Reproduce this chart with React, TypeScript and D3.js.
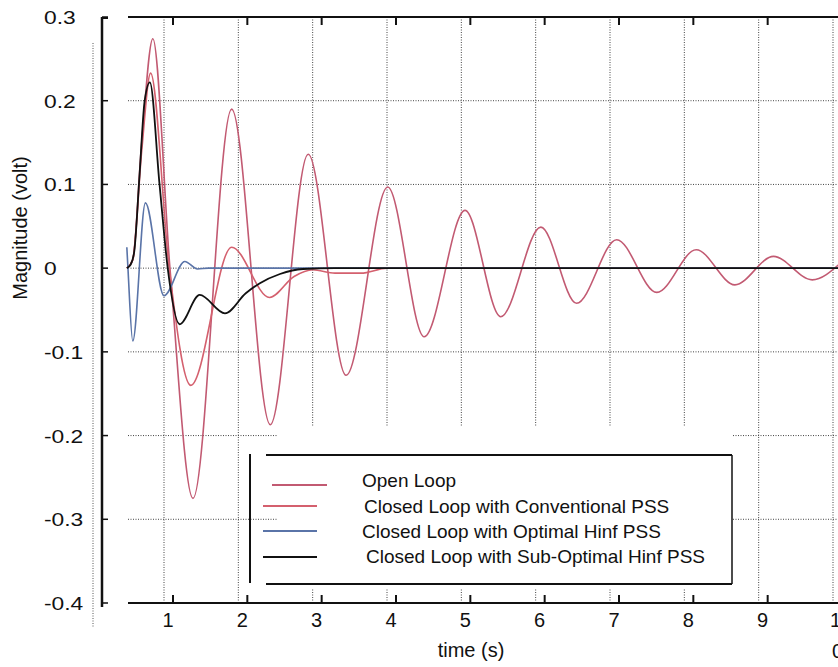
import React from "react";
import * as d3 from "d3";

const W = 838;
const H = 667;

// Open loop
const openT = [0.5, 0.58, 0.7, 0.85, 1.08, 1.39, 1.91, 2.43, 2.94, 3.45, 4.01, 4.5, 5.05, 5.53, 6.07, 6.55, 7.09, 7.63, 8.16, 8.68, 9.2, 9.72, 10.1];
const openV = [0, 0.01, 0.15, 0.274, 0, -0.275, 0.19, -0.187, 0.136, -0.128, 0.097, -0.082, 0.069, -0.058, 0.049, -0.042, 0.034, -0.029, 0.022, -0.02, 0.014, -0.014, 0.006];

// Closed loop with conventional PSS
const convT = [0.5, 0.58, 0.7, 0.82, 1.07, 1.36, 1.91, 2.42, 2.75, 3.0, 3.3, 3.65, 4.0, 10.1];
const convV = [0, 0.01, 0.14, 0.233, 0, -0.14, 0.025, -0.035, -0.01, -0.002, -0.006, -0.006, 0, 0];

// Closed loop with optimal Hinf PSS
const optT = [0.5, 0.515, 0.58, 0.75, 1.0, 1.28, 1.45, 1.6, 10.1];
const optV = [0.025, 0, -0.087, 0.078, -0.033, 0.008, -0.001, 0, 0];

// Closed loop with sub-optimal Hinf PSS
const subT = [0.5, 0.55, 0.6, 0.67, 0.74, 0.81, 0.94, 1.05, 1.21, 1.48, 1.82, 2.1, 2.29, 2.56, 2.87, 3.3, 10.1];
const subV = [0, 0.004, 0.02, 0.11, 0.2, 0.222, 0.1, 0, -0.067, -0.032, -0.054, -0.03, -0.018, -0.007, -0.001, 0, 0];

const xTicks = [1, 2, 3, 4, 5, 6, 7, 8, 9, 10];
const yTicks = [0.3, 0.2, 0.1, 0, -0.1, -0.2, -0.3, -0.4];
const yTickLabels = ["0.3", "0.2", "0.1", "0", "-0.1", "-0.2", "-0.3", "-0.4"];
const yGrid = [0.2, 0.1, 0, -0.1, -0.2, -0.3];

const legendLabels = [
  "Open Loop",
  "Closed Loop with Conventional PSS",
  "Closed Loop with Optimal Hinf PSS",
  "Closed Loop with Sub-Optimal Hinf PSS",
];
const colors = ["#c25a72", "#d4606e", "#5a74a8", "#111111"];

const FONT = "'Liberation Sans', Arial, Helvetica, sans-serif";

export default function App() {
  const x = d3.scaleLinear().domain([1, 10]).range([164, 833]);
  const y = d3.scaleLinear().domain([0.3, -0.4]).range([17, 603]);
  const line = d3
    .line<[number, number]>()
    .x((d) => x(d[0]))
    .y((d) => y(d[1]))
    .curve(d3.curveMonotoneX);

  const series = [
    { t: openT, v: openV },
    { t: convT, v: convV },
    { t: optT, v: optV },
    { t: subT, v: subV },
  ];
  const paths = series.map((s) => line(s.t.map((t, i) => [t, s.v[i]] as [number, number])) || "");

  const left = 128;
  const top = y(0.3);
  const bottom = y(-0.4);

  const legendLineX1 = [272, 263, 263, 263];
  const legendLineX2 = [327, 317, 317, 317];
  const legendLineY = [485, 506, 531, 557];
  const legendTextX = [362, 364, 362, 366];
  const legendTextY = [487, 513, 538, 563];

  return (
    <svg
      width={W}
      height={H}
      style={{ position: "fixed", left: 0, top: 0, background: "#fff" }}
      fontFamily={FONT}
    >
      <defs>
        <clipPath id="plotclip">
          <rect x={left - 2} y={0} width={W - left + 2} height={H} />
        </clipPath>
      </defs>
      <rect x={0} y={0} width={W} height={H} fill="#fff" />

      {/* grid */}
      {xTicks.map((t) => (
        <line
          key={"gx" + t}
          x1={x(t)}
          x2={x(t)}
          y1={top}
          y2={bottom}
          stroke="#444"
          strokeWidth={1}
          strokeDasharray="1,1.5"
        />
      ))}
      {yGrid.map((v) => (
        <line
          key={"gy" + v}
          x1={left}
          x2={W}
          y1={y(v)}
          y2={y(v)}
          stroke="#444"
          strokeWidth={1}
          strokeDasharray="1,1.5"
        />
      ))}

      {/* outer dotted line */}
      <line x1={93} x2={93} y1={43} y2={627} stroke="#555" strokeWidth={1} strokeDasharray="1,1.5" />

      {/* curves */}
      <g clipPath="url(#plotclip)" fill="none">
        {paths.map((p, i) => (
          <path key={"p" + i} d={p} stroke={colors[i]} strokeWidth={i === 3 ? 1.8 : 1.6} />
        ))}
      </g>

      {/* axes */}
      <line x1={left} x2={W} y1={top} y2={top} stroke="#111" strokeWidth={2} />
      <line x1={left} x2={W} y1={bottom} y2={bottom} stroke="#111" strokeWidth={2} />
      {xTicks.map((t) => (
        <g key={"tk" + t}>
          <line x1={x(t) + 9} x2={x(t) + 9} y1={top} y2={top + 8} stroke="#111" strokeWidth={2} />
          <line x1={x(t) + 9} x2={x(t) + 9} y1={bottom} y2={bottom - 8} stroke="#111" strokeWidth={2} />
        </g>
      ))}
      <line x1={102} x2={102} y1={top} y2={bottom + 4} stroke="#111" strokeWidth={2.5} />
      <line x1={101} x2={108} y1={top + 1} y2={top + 1} stroke="#111" strokeWidth={2} />
      {yTicks.map((v) => (
        <line key={"yt" + v} x1={102} x2={108} y1={y(v)} y2={y(v)} stroke="#111" strokeWidth={1.5} />
      ))}

      {/* tick labels */}
      {yTicks.map((v, i) => (
        <text
          key={"yl" + v}
          transform={`translate(44,${y(v) + 7}) scale(1.2,1)`}
          fontSize={19}
          fill="#111"
        >
          {yTickLabels[i]}
        </text>
      ))}
      {xTicks.map((t) =>
        t < 10 ? (
          <text key={"xl" + t} x={x(t) + 4} y={627} fontSize={20} textAnchor="middle" fill="#111">
            {String(t)}
          </text>
        ) : (
          <text key={"xl" + t} x={x(t) - 3} y={627} fontSize={20} fill="#111">
            {String(t)}
          </text>
        )
      )}
      <text x={x(10) - 1} y={658} fontSize={20} fill="#111">
        0
      </text>

      {/* axis labels */}
      <text x={471} y={657} fontSize={20} textAnchor="middle" fill="#111">
        time (s)
      </text>
      <text
        transform="translate(27,228) rotate(-90)"
        fontSize={20}
        textAnchor="middle"
        fill="#111"
      >
        Magnitude (volt)
      </text>

      {/* legend */}
      <rect x={277} y={426} width={456} height={162} fill="#fff" />
      <line x1={250} x2={250} y1={454} y2={583} stroke="#111" strokeWidth={2} />
      <line x1={266} x2={732} y1={455} y2={455} stroke="#111" strokeWidth={2} />
      <line x1={732} x2={732} y1={455} y2={584} stroke="#111" strokeWidth={1.5} />
      <line x1={266} x2={732} y1={584} y2={584} stroke="#111" strokeWidth={2} />
      {legendLabels.map((lab, i) => (
        <g key={"lg" + i}>
          <line
            x1={legendLineX1[i]}
            x2={legendLineX2[i]}
            y1={legendLineY[i]}
            y2={legendLineY[i]}
            stroke={colors[i]}
            strokeWidth={2}
          />
          <text x={legendTextX[i]} y={legendTextY[i]} fontSize={19} fill="#111">
            {lab}
          </text>
        </g>
      ))}
    </svg>
  );
}
